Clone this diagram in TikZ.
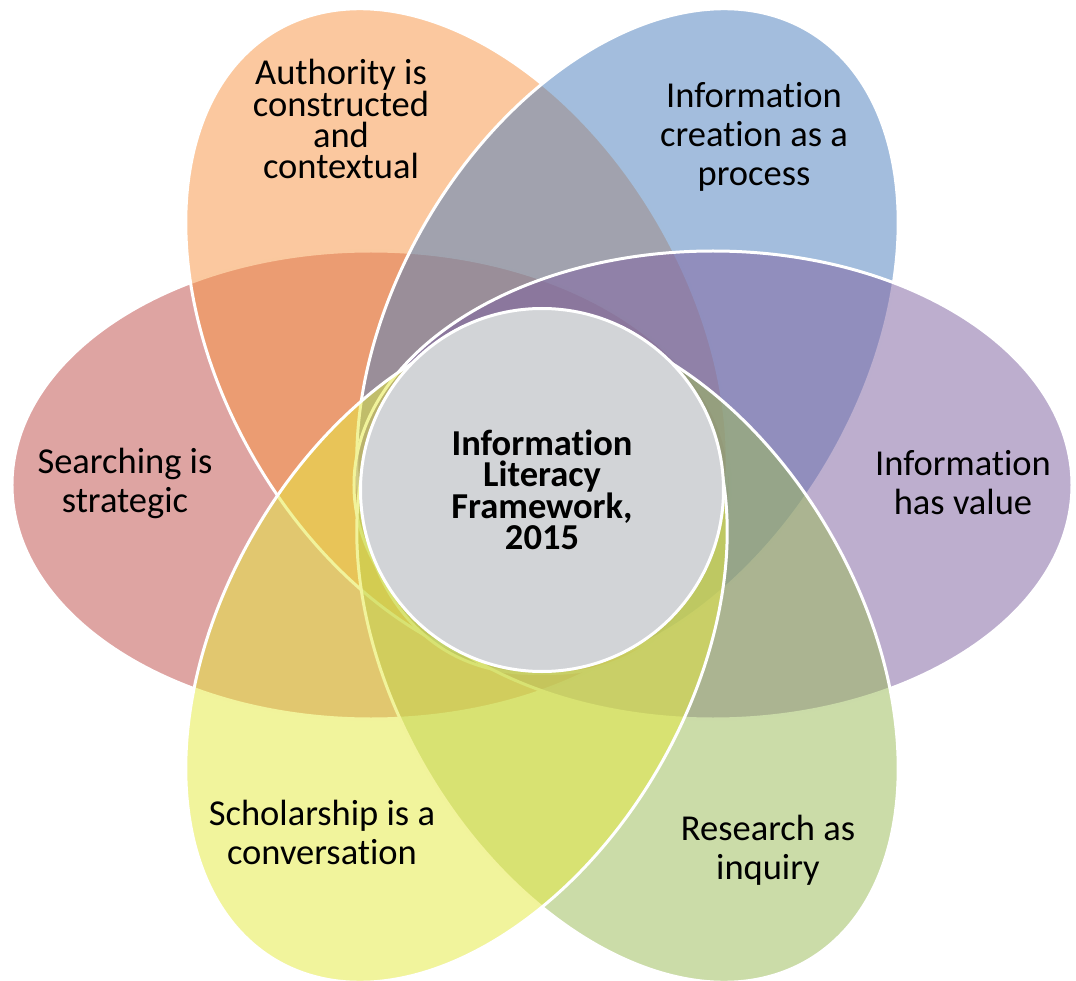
\documentclass[tikz,border=0pt]{standalone}
\usepackage{fontspec}
\setmainfont[Ligatures=NoCommon]{Carlito}

\definecolor{pinkc}{HTML}{C0504D}
\definecolor{orangec}{HTML}{F79646}
\definecolor{bluec}{HTML}{4F81BD}
\definecolor{purplec}{HTML}{8064A2}
\definecolor{greenc}{HTML}{9BBB59}
\definecolor{yellowc}{HTML}{E5E941}
\definecolor{hubgrey}{HTML}{D2D4D7}

\begin{document}
\begin{tikzpicture}[x=1pt,y=1pt]
\tikzstyle{petal} = [draw=white, line width=3pt, fill opacity=0.52]
\tikzstyle{lbl} = [align=center, inner sep=0pt, font=\fontsize{36.5}{39}\selectfont]
\tikzstyle{hub} = [circle, draw=white, line width=3pt, fill=hubgrey, minimum size=363pt, inner sep=0pt, align=center, font=\fontsize{36.5}{31}\selectfont\bfseries]

\useasboundingbox (-542,-490) rectangle (534,490);

% six petals, drawn round the clock
\foreach \x/\y/\r/\col in {-171/5/0/pinkc, -85.5/149/120/orangec, 85.5/149/60/bluec, 171/5/0/purplec, 85.5/-160/120/greenc, -85.5/-160/60/yellowc} {
\draw[petal, fill=\col, rotate around={\r:(\x,\y)}] (\x,\y) ellipse [x radius=359, y radius=234];
}

\node[hub] (hub) at (0,0) {Information\\Literacy\\Framework,\\2015};

\node[lbl, font=\fontsize{36.5}{30.7}\selectfont] (authority) at (-201,371) {Authority is\\constructed\\and\\contextual};
\node[lbl] (creation) at (212,353) {Information\\creation as a\\process};
\node[lbl] (value) at (421,7) {Information\\has value};
\node[lbl] (searching) at (-417,7) {Searching is\\strategic};
\node[lbl] (scholarship) at (-220,-342) {Scholarship is a\\conversation};
\node[lbl] (research) at (226,-360) {Research as\\inquiry};

\end{tikzpicture}
\end{document}
